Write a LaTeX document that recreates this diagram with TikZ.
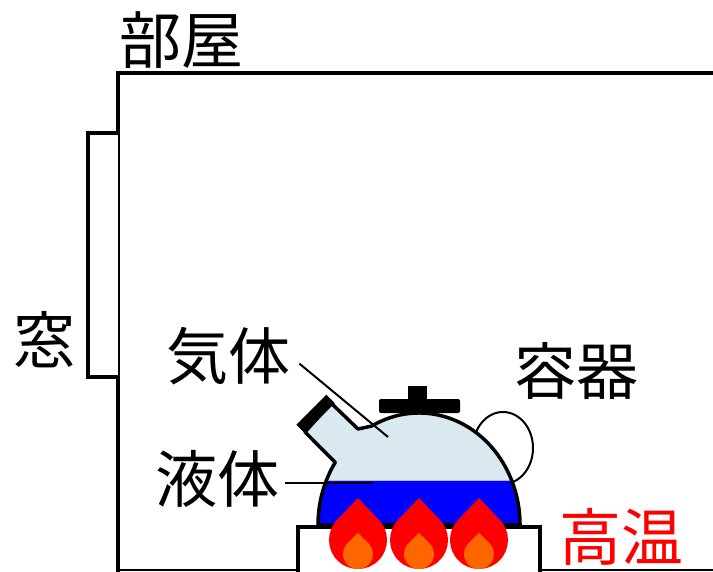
\documentclass[tikz,border=0pt]{standalone}
\usepackage{fontspec}
\usepackage{tikz}
\usetikzlibrary{positioning}
\newfontfamily\jp{Noto Sans CJK JP}
\definecolor{gasblue}{RGB}{218,232,240}
\definecolor{liqblue}{RGB}{0,0,255}
\definecolor{flamered}{RGB}{255,0,0}
\definecolor{flameorange}{RGB}{255,102,0}
\tikzset{
  lbl/.style={font=\jp\fontsize{62}{62}\selectfont, inner sep=0pt},
  hotlbl/.style={lbl, text=flamered},
  wall/.style={line width=4pt},
  outline/.style={draw=black, line width=3.5pt, line join=round},
  leader/.style={line width=2pt}
}
% outline of the kettle body with its spout
\newcommand{\kettlebody}{(318,-525) arc[start angle=180, end angle=146, x radius=101, y radius=112]
  -- (305,-432) -- (331,-403) -- (358,-429) -- (371.6,-426.1)
  arc[start angle=118, end angle=0, x radius=101, y radius=112] -- cycle}

\begin{document}
\begin{tikzpicture}[x=1pt,y=1pt]
  \useasboundingbox (0,0) rectangle (713,-572);

  % room walls, floor and window
  \draw[wall] (713,-73) -- (118,-73) -- (118,-572);
  \draw[line width=1.5pt] (118,-570) -- (713,-570);
  \draw[wall, fill=white] (118,-133) -- (88,-133) -- (88,-377) -- (118,-377);

  % labels
  \node[lbl] (room) at (181,-40) {部屋};
  \node[lbl] (window) at (44,-340) {窓};
  \node[lbl] (gaslbl) at (228,-356) {気体};
  \node[lbl] (liqlbl) at (217,-479) {液体};
  \node[lbl] (vessel) at (576,-371) {容器};
  \node[hotlbl] (hot) at (621,-537) {高温};

  % handle behind the body
  \draw[line width=2pt] (503,-448) ellipse[x radius=30, y radius=36];

  % stove
  \draw[wall, fill=white] (298,-572) |- (540,-527) -- (540,-572);

  % kettle: gas, liquid, outline
  \fill[gasblue] \kettlebody;
  \begin{scope}
    \clip (419,-525) ellipse[x radius=101, y radius=112];
    \fill[liqblue] (310,-480) rectangle (530,-526);
    \draw[blue!30, line width=1pt] (310,-480) -- (530,-480);
  \end{scope}
  \draw[outline] \kettlebody;
  \fill[rounded corners=2pt] (379,-413) rectangle (460,-399);
  \fill (408,-402) rectangle (427,-386);
  \draw[line width=12pt] (300.5,-429) -- (330.5,-399);

  % flames
  \foreach \fx in {358,419,479}{
    \begin{scope}[shift={(\fx,-540)}]
      \fill[flamered] (0,42) -- (136.4:29) arc[start angle=136.4, end angle=403.6, radius=29] -- cycle;
      \begin{scope}[shift={(0,-14)}]
        \fill[flameorange] (0,21) -- (134.4:15) arc[start angle=134.4, end angle=405.6, radius=15] -- cycle;
      \end{scope}
    \end{scope}
  }

  % leader lines
  \coordinate (gaspt) at (388,-437);
  \coordinate (liqpt) at (373,-483);
  \draw[leader, shorten <=12pt] (gaslbl.east) -- (gaspt);
  \draw[leader] ([xshift=6pt, yshift=-4pt]liqlbl.east) -- (liqpt);
\end{tikzpicture}
\end{document}
